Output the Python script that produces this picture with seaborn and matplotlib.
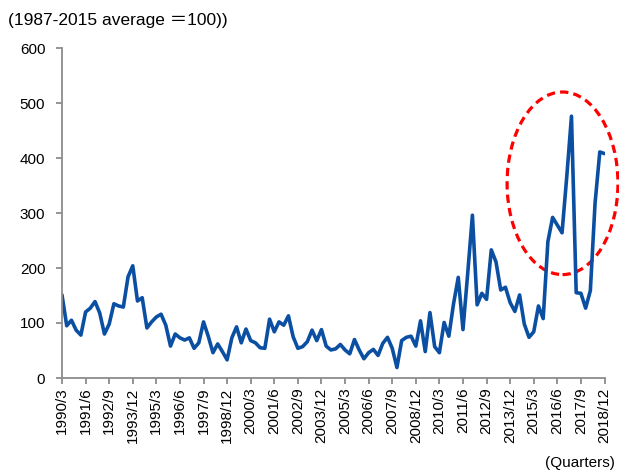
import numpy as np
import pandas as pd
import matplotlib
matplotlib.use("Agg")
import matplotlib.pyplot as plt
from matplotlib.patches import Ellipse
import seaborn as sns

# Quarterly index, 1990/3 .. 2018/12 (1987-2015 average = 100)
years = np.repeat(np.arange(1990, 2019), 4)
months = np.tile([3, 6, 9, 12], 29)
quarter_labels = [f"{y}/{m}" for y, m in zip(years, months)]

index_values = [
    151, 95, 105, 87, 78, 120, 127, 139, 118, 80,
    98, 135, 131, 129, 184, 204, 140, 146, 91, 102,
    111, 116, 96, 58, 80, 73, 69, 73, 54, 64,
    102, 76, 46, 62, 48, 33, 73, 93, 64, 89,
    68, 64, 55, 54, 107, 84, 102, 96, 113, 75,
    54, 57, 66, 87, 68, 88, 58, 51, 53, 61,
    51, 44, 70, 51, 35, 46, 52, 41, 63, 74,
    54, 19, 68, 74, 76, 58, 104, 48, 119, 57,
    46, 101, 76, 135, 183, 88, 190, 296, 133, 154,
    143, 233, 211, 160, 165, 137, 121, 151, 98, 74,
    84, 131, 108, 248, 292, 278, 264, 366, 476, 155,
    154, 127, 159, 318, 411, 408,
]

df = pd.DataFrame({"pos": np.arange(len(index_values)),
                   "label": quarter_labels,
                   "value": index_values})

sns.set_theme(style="white")
plt.rcParams["font.family"] = ["Liberation Sans", "Noto Sans CJK JP", "DejaVu Sans"]

axis_gray = "#8c8c8c"

fig = plt.figure(figsize=(6.19, 4.71), dpi=100)
ax = fig.add_axes([62 / 619, 1 - 378 / 471, (604.5 - 62) / 619, (378 - 48) / 471])

sns.lineplot(data=df, x="pos", y="value", ax=ax, color="#0b4fa3", linewidth=2.6)

ax.set_xlim(0, len(index_values) - 1)
ax.set_ylim(0, 600)
ax.set_yticks(range(0, 601, 100))
tick_pos = df["pos"][::5]
ax.set_xticks(tick_pos)
ax.set_xticklabels(df["label"][::5], rotation=90)
ax.set_xlabel("")
ax.set_ylabel("")

for side in ["top", "right"]:
    ax.spines[side].set_visible(False)
for side in ["left", "bottom"]:
    ax.spines[side].set_color(axis_gray)
    ax.spines[side].set_linewidth(1.3)

ax.tick_params(axis="y", direction="out", length=4, width=1.3, color=axis_gray,
               pad=8, labelsize=11, left=True, labelcolor="black")
ax.tick_params(axis="x", direction="out", length=4, width=1.3, color=axis_gray,
               pad=3, labelsize=11, bottom=True, labelcolor="black")

# highlight recent surge
ell = Ellipse((106.1, 354), width=23.5, height=332, fill=False,
              edgecolor="#ff0000", linewidth=2.3, linestyle=(0, (2.6, 1.6)),
              clip_on=False)
ax.add_patch(ell)

fig.text(8 / 619, 1 - 20.5 / 471, "(1987-2015 average \uff1d100))",
         fontsize=12.5, va="center", ha="left", color="black")
fig.text(615 / 619, 1 - 463 / 471, "(Quarters)", fontsize=11,
         va="center", ha="right", color="black")

fig.savefig("out.png", dpi=100)
